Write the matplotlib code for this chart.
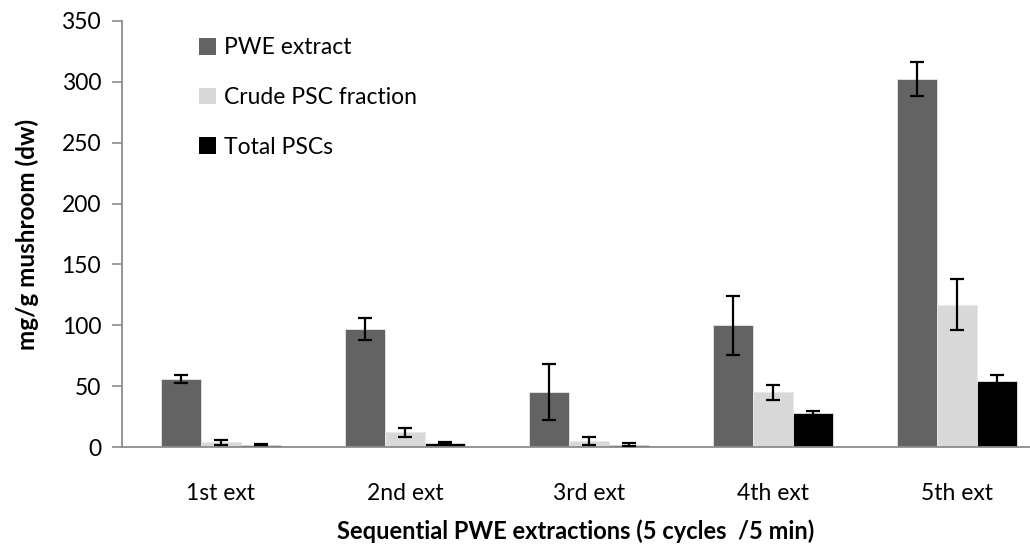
import numpy as np
import matplotlib.pyplot as plt
from matplotlib.patches import Patch

plt.rcParams['font.family'] = ['Lato', 'DejaVu Sans']

categories = ["1st ext", "2nd ext", "3rd ext", "4th ext", "5th ext"]
series_names = ["PWE extract", "Crude PSC fraction", "Total PSCs"]

pwe_extract = [56, 97, 45, 100, 302]
pwe_err = [3.5, 9, 23, 24, 14]
crude_psc = [4, 12, 5, 45, 117]
crude_err = [2, 3.5, 3, 6, 21]
total_pscs = [2, 3.5, 2, 28, 54]
total_err = [0.5, 1, 1, 1.5, 5]

colors = ["#636363", "#d9d9d9", "#000000"]

fig = plt.figure(figsize=(10.30, 5.58), dpi=100)
ax = fig.add_axes([0.1184, 0.1989, 0.8816, 0.7635])

x = np.arange(len(categories))
width = 0.218
values = [pwe_extract, crude_psc, total_pscs]
errors = [pwe_err, crude_err, total_err]

for i in range(3):
    ax.bar(x + (i - 1) * width, values[i], width, color=colors[i],
           edgecolor="#e8e8e8", linewidth=0.6, zorder=2)
    ax.errorbar(x + (i - 1) * width, values[i], yerr=errors[i], fmt="none",
                ecolor="black", elinewidth=1.6, capsize=5, capthick=1.6, zorder=3)

ax.set_xlim(-0.538, 4.397)
ax.set_ylim(0, 350)
ax.set_yticks(np.arange(0, 351, 50))
ax.set_xticks(x)
ax.set_xticklabels(categories)

for side in ["top", "right"]:
    ax.spines[side].set_visible(False)
for side in ["left", "bottom"]:
    ax.spines[side].set_color("#8c8c8c")
    ax.spines[side].set_linewidth(1.3)

ax.tick_params(axis="y", length=7, width=1.2, color="#8c8c8c", labelsize=16.5, pad=8)
ax.tick_params(axis="x", length=0, labelsize=16.5, pad=26)

ax.set_ylabel("mg/g mushroom (dw)", fontsize=17.5, fontweight="bold", labelpad=16)
ax.set_xlabel("Sequential PWE extractions (5 cycles  /5 min)", fontsize=17,
              fontweight="bold", labelpad=11)

handles = [Patch(facecolor=c, edgecolor="none") for c in colors]
ax.legend(handles, series_names, loc="upper left", bbox_to_anchor=(0.062, 1.01),
          frameon=False, fontsize=16.5, labelspacing=1.25, handlelength=0.75,
          handleheight=0.75, handletextpad=0.35)

fig.savefig("out.png", dpi=100)
